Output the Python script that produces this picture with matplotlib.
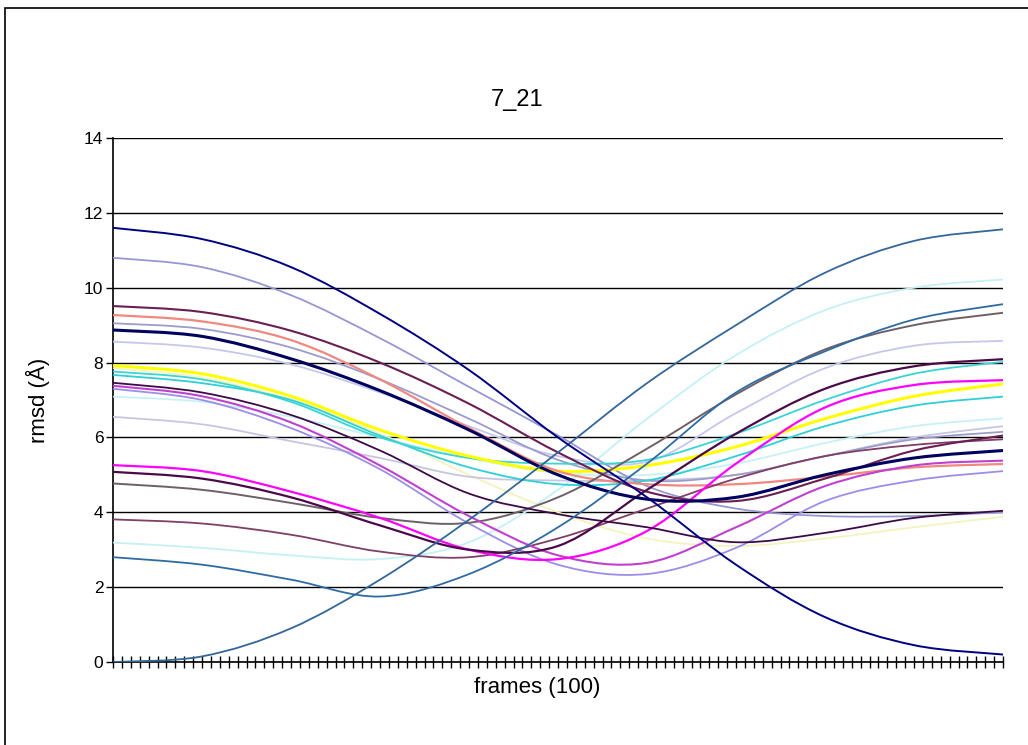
import matplotlib
matplotlib.use("Agg")
import matplotlib.pyplot as plt
import numpy as np
from matplotlib.path import Path
from matplotlib.patches import PathPatch, Rectangle

plt.rcParams['font.family'] = ['Liberation Sans', 'DejaVu Sans']

# frames sampled every 10 of the 100
frames = [0, 10, 20, 30, 40, 50, 60, 70, 80, 90, 100]

navy = [11.6, 11.3, 10.55, 9.3, 7.8, 6.0, 4.4, 2.6, 1.2, 0.45, 0.2]
steel = [0.0, 0.15, 0.9, 2.2, 3.8, 5.6, 7.45, 9.0, 10.4, 11.25, 11.56]
steel2 = [2.8, 2.6, 2.2, 1.75, 2.35, 3.6, 5.3, 7.2, 8.3, 9.15, 9.56]
ltcyan = [3.19, 3.05, 2.85, 2.75, 3.2, 4.6, 6.5, 8.2, 9.4, 10.0, 10.22]
gray = [4.77, 4.6, 4.25, 3.85, 3.72, 4.4, 5.7, 7.15, 8.35, 9.0, 9.33]
plum = [3.81, 3.7, 3.4, 2.95, 2.8, 3.3, 4.1, 4.9, 5.5, 5.8, 5.95]
dkpurple2 = [5.08, 4.9, 4.4, 3.65, 3.0, 3.1, 4.6, 6.1, 7.3, 7.9, 8.09]
magenta = [5.26, 5.1, 4.55, 3.85, 3.0, 2.75, 3.5, 5.3, 6.8, 7.4, 7.53]
magviolet = [7.38, 7.1, 6.4, 5.25, 3.9, 2.85, 2.65, 3.6, 4.7, 5.25, 5.38]
violet = [7.3, 7.0, 6.25, 5.15, 3.7, 2.6, 2.35, 3.05, 4.3, 4.85, 5.1]
lavender = [10.8, 10.55, 9.8, 8.65, 7.35, 6.05, 4.7, 4.1, 3.9, 3.9, 4.0]
dkplum = [9.51, 9.35, 8.85, 8.0, 6.9, 5.6, 4.55, 4.3, 4.9, 5.65, 6.05]
salmon = [9.27, 9.1, 8.6, 7.55, 6.25, 5.1, 4.75, 4.75, 4.95, 5.2, 5.29]
grayblue = [9.05, 8.9, 8.4, 7.55, 6.5, 5.4, 4.85, 5.0, 5.5, 5.95, 6.15]
navy2 = [8.87, 8.7, 8.1, 7.25, 6.2, 5.0, 4.35, 4.4, 5.0, 5.45, 5.65]
ltlav = [8.56, 8.4, 7.95, 7.2, 6.3, 5.5, 5.35, 6.65, 7.85, 8.45, 8.58]
yellow = [7.92, 7.7, 7.1, 6.2, 5.5, 5.1, 5.25, 5.75, 6.5, 7.1, 7.43]
cyan_a = [7.76, 7.55, 6.95, 6.0, 5.45, 5.3, 5.4, 6.1, 7.0, 7.7, 8.02]
cyan_b = [7.67, 7.45, 7.0, 6.05, 5.2, 4.75, 4.85, 5.5, 6.3, 6.85, 7.09]
dkpurple = [7.46, 7.2, 6.6, 5.65, 4.5, 3.95, 3.6, 3.2, 3.45, 3.85, 4.04]
ltcyan2 = [7.09, 6.95, 6.55, 6.0, 5.45, 5.05, 5.0, 5.3, 5.85, 6.3, 6.51]
ltlavgray = [6.55, 6.35, 5.9, 5.45, 4.95, 4.85, 4.85, 5.0, 5.5, 6.0, 6.3]
ltyellow = [7.85, 7.6, 7.0, 6.1, 5.0, 4.0, 3.3, 3.1, 3.3, 3.6, 3.88]

series = [
    (ltyellow, "#F3F3BE", 1.3),
    (ltcyan, "#C4F0F6", 1.3),
    (ltcyan2, "#C8F0F6", 1.3),
    (ltlavgray, "#C6C6E2", 1.3),
    (ltlav, "#C6C6EE", 1.3),
    (grayblue, "#9C9CCC", 1.3),
    (lavender, "#9696D6", 1.3),
    (violet, "#9A8EE8", 1.3),
    (cyan_b, "#2ECFD6", 1.3),
    (cyan_a, "#3AD4D4", 1.3),
    (yellow, "#FFFF00", 2.2),
    (salmon, "#F08880", 1.6),
    (gray, "#6E6068", 1.4),
    (plum, "#7F3F66", 1.3),
    (magviolet, "#C040D0", 1.5),
    (magenta, "#FF00FF", 1.6),
    (dkplum, "#6A1E52", 1.5),
    (dkpurple2, "#4A0A4A", 1.6),
    (dkpurple, "#3C0A46", 1.3),
    (navy2, "#00005E", 2.2),
    (steel2, "#2E6BA3", 1.3),
    (steel, "#336699", 1.3),
    (navy, "#000080", 1.4),
]


def smooth_path(x, y):
    # Excel style smoothed line: cubic Bezier through the points
    x = np.asarray(x, float)
    y = np.asarray(y, float)
    pts = np.column_stack([x, y])
    ext = np.vstack([pts[0], pts, pts[-1]])
    verts = [pts[0]]
    codes = [Path.MOVETO]
    for i in range(len(pts) - 1):
        p0, p1, p2, p3 = ext[i], ext[i + 1], ext[i + 2], ext[i + 3]
        verts += [p1 + (p2 - p0) / 6, p2 - (p3 - p1) / 6, p2]
        codes += [Path.CURVE4] * 3
    return Path(verts, codes)


fig = plt.figure(figsize=(10.28, 7.45), dpi=100)
ax = fig.add_axes([113 / 1028, 1 - 662 / 745, 890 / 1028, 524 / 745])

for vals, color, lw in series:
    ax.add_patch(PathPatch(smooth_path(frames, vals), facecolor="none",
                           edgecolor=color, lw=lw, zorder=3))

ax.set_xlim(0, 100)
ax.set_ylim(0, 14)
ax.set_yticks(range(0, 15, 2))
ax.set_xticks(range(0, 101))
ax.set_xticklabels([])
ax.grid(axis="y", color="black", lw=1.0)
ax.set_axisbelow(True)
ax.tick_params(axis="x", direction="inout", length=8, width=1.0, color="black")
ax.tick_params(axis="y", direction="out", length=5, width=1.0, labelsize=12.5, pad=2)
for s in ["top", "right"]:
    ax.spines[s].set_visible(False)
for s in ["left", "bottom"]:
    ax.spines[s].set_color("black")
    ax.spines[s].set_linewidth(1.2)

fig.text(517 / 1028, 1 - 100 / 745, "7_21", fontsize=17, ha="center", va="center")
ax.set_ylabel("rmsd (Å)", fontsize=16)
ax.yaxis.set_label_coords((38 - 113) / 890, (662 - 400) / 524)
ax.set_xlabel("frames (100)", fontsize=16)
ax.xaxis.set_label_coords((537 - 113) / 890, -(688 - 662) / 524)
ax.xaxis.label.set_va("center")
ax.yaxis.label.set_va("center")

fig.patches.append(Rectangle((5 / 1028, -0.05), 1.2, 1.05 - 8 / 745, fill=False,
                             edgecolor="black", lw=1.2, transform=fig.transFigure))

fig.savefig("out.png", dpi=100)
